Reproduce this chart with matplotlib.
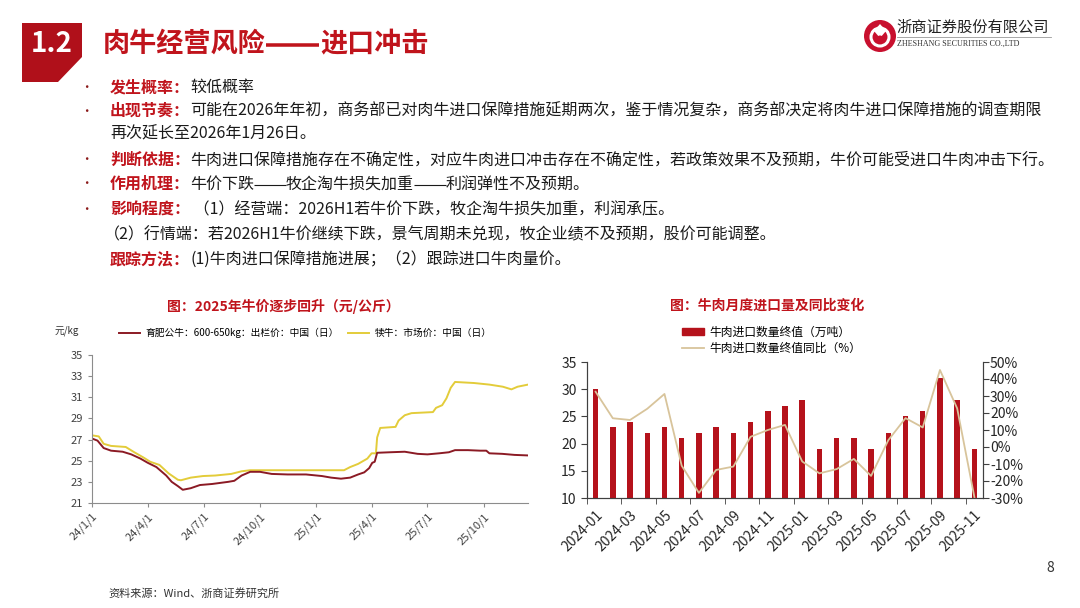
import matplotlib
matplotlib.use('Agg')
import matplotlib.pyplot as plt
from matplotlib.patches import Polygon, Circle, Rectangle
from matplotlib.lines import Line2D
import numpy as np
import pandas as pd

plt.rcParams['font.family'] = ['Noto Sans CJK SC', 'DejaVu Sans']

RED = '#C0141C'

# ---- left chart: daily cattle prices (yuan/kg), key points
bull_dates = ['2024-01-01', '2024-01-10', '2024-01-20', '2024-02-01', '2024-02-20', '2024-03-05',
              '2024-03-20', '2024-04-01', '2024-04-15', '2024-05-01', '2024-05-10', '2024-05-20',
              '2024-05-28', '2024-06-10', '2024-06-25', '2024-07-15', '2024-08-10', '2024-08-20',
              '2024-09-01', '2024-09-15', '2024-10-01', '2024-10-20', '2024-11-15', '2024-12-15',
              '2025-01-10', '2025-01-25', '2025-02-10', '2025-02-25', '2025-03-10', '2025-03-20',
              '2025-03-28', '2025-04-02', '2025-04-06', '2025-04-10', '2025-05-01', '2025-05-25',
              '2025-06-15', '2025-07-01', '2025-07-20', '2025-08-05', '2025-08-15', '2025-09-05',
              '2025-09-25', '2025-10-05', '2025-10-10', '2025-10-31', '2025-11-20', '2025-12-12']
bull_price = [27.1, 26.9, 26.2, 25.95, 25.85, 25.6,
              25.2, 24.8, 24.4, 23.6, 23.0, 22.6,
              22.25, 22.4, 22.7, 22.8, 23.0, 23.1,
              23.6, 23.95, 23.95, 23.75, 23.7, 23.7,
              23.55, 23.4, 23.3, 23.4, 23.7, 23.9,
              24.3, 24.8, 24.9, 25.75, 25.8, 25.85,
              25.65, 25.6, 25.7, 25.8, 26.0, 26.0,
              25.95, 25.95, 25.7, 25.65, 25.55, 25.5]

calf_dates = ['2024-01-01', '2024-01-12', '2024-01-20', '2024-02-01', '2024-02-25', '2024-03-10',
              '2024-03-25', '2024-04-05', '2024-04-20', '2024-05-05', '2024-05-20', '2024-05-25',
              '2024-06-10', '2024-06-30', '2024-07-20', '2024-08-15', '2024-09-01', '2024-09-15',
              '2025-02-15', '2025-02-25', '2025-03-10', '2025-03-25', '2025-04-01', '2025-04-08',
              '2025-04-10', '2025-04-15', '2025-05-10', '2025-05-15', '2025-05-25', '2025-06-05',
              '2025-07-10', '2025-07-15', '2025-07-25', '2025-08-01', '2025-08-08', '2025-08-15',
              '2025-09-15', '2025-10-10', '2025-11-01', '2025-11-15', '2025-11-25', '2025-12-12']
calf_price = [27.4, 27.3, 26.6, 26.4, 26.3, 25.8,
              25.3, 24.9, 24.6, 23.8, 23.2, 23.15,
              23.4, 23.55, 23.6, 23.75, 24.0, 24.1,
              24.1, 24.4, 24.7, 25.2, 25.7, 25.7,
              27.2, 28.1, 28.2, 28.8, 29.3, 29.5,
              29.6, 30.0, 30.25, 30.9, 31.9, 32.45,
              32.35, 32.2, 32.0, 31.75, 32.0, 32.2]

date_ticks = ['2024-01-01', '2024-04-01', '2024-07-01', '2024-10-01',
              '2025-01-01', '2025-04-01', '2025-07-01', '2025-10-01']

# ---- right chart: monthly beef imports
months = ['2024-01', '2024-02', '2024-03', '2024-04', '2024-05', '2024-06', '2024-07', '2024-08',
          '2024-09', '2024-10', '2024-11', '2024-12', '2025-01', '2025-02', '2025-03', '2025-04',
          '2025-05', '2025-06', '2025-07', '2025-08', '2025-09', '2025-10', '2025-11']
import_vol = [30, 23, 24, 22, 23, 21, 22, 23, 22, 24, 26, 27, 28, 19, 21, 21, 19, 22, 25, 26, 32, 28, 19]
import_yoy = [32.5, 16.9, 15.9, 22.5, 31.2, -11, -27, -13.5, -11.5, 6, 10, 13,
              -8.5, -15.5, -13, -7, -17, 4, 17, 11.5, 45.3, 22.7, -29.5]

fig = plt.figure(figsize=(10.8, 6.08), dpi=100)
fig.patch.set_facecolor('white')

# page overlay in pixel coordinates
bg = fig.add_axes([0, 0, 1, 1])
bg.set_xlim(0, 1080)
bg.set_ylim(608, 0)
bg.axis('off')
renderer = fig.canvas.get_renderer()


def chain(x, y, parts, fs, color_bold=RED, color_norm='#1a1a1a', all_bold=False):
    # draw text pieces one after another; '——' drawn as a solid rule
    em = fs * 100 / 72
    for s, bold in parts:
        col = color_bold if bold else color_norm
        if s == '——':
            bg.plot([x + 0.02 * em, x + 1.98 * em], [y + 0.04 * em, y + 0.04 * em], color=col,
                    lw=fs * (0.13 if (bold or all_bold) else 0.07), solid_capstyle='butt')
            x += 2 * em
            continue
        t = bg.text(x, y, s, fontsize=fs, va='center',
                    fontweight='bold' if (bold or all_bold) else 'normal', color=col)
        x = t.get_window_extent(renderer=renderer).x1
    return x


bg.add_patch(Polygon([(22, 23), (82, 23), (82, 57), (58, 82), (22, 82)], closed=True,
                     color='#B0101A', lw=0))
bg.text(52, 44, '1.2', color='white', fontsize=20, fontweight='bold', ha='center', va='center')
chain(103, 44, [('肉牛经营风险', True), ('——', True), ('进口冲击', True)], 19.5)

# logo
bg.add_patch(Circle((880, 36), 16, color='#C8102E', lw=0))
bg.add_patch(Circle((880, 37), 9, fill=False, ec='white', lw=2.2))
bg.add_patch(Polygon([(880, 24), (886, 31), (880, 38), (874, 31)], closed=True, color='white', lw=0))
bg.add_patch(Circle((880, 39), 3.5, color='#C8102E', lw=0))
bg.text(896, 27, '浙商证券股份有限公司', fontsize=11, color='#222222', va='center')
bg.plot([897, 1051], [36.5, 36.5], color='#999999', lw=0.6)
bg.text(897, 43.5, 'ZHESHANG SECURITIES CO.,LTD', fontsize=5.8, family='Liberation Serif',
        color='#333333', va='center')

FS = 11.5


def text_line(y, parts, x=110, bullet=True):
    if bullet:
        bg.text(86, y, '•', fontsize=9, color='#8B1A1A', va='center', ha='center')
    chain(x, y, parts, FS)


text_line(87, [('发生概率：', True), ('较低概率', False)])
text_line(111, [('出现节奏：', True),
                ('可能在2026年年初，商务部已对肉牛进口保障措施延期两次，鉴于情况复杂，商务部决定将肉牛进口保障措施的调查期限', False)])
text_line(134, [('再次延长至2026年1月26日。', False)], bullet=False)
text_line(160, [('判断依据：', True),
                ('牛肉进口保障措施存在不确定性，对应牛肉进口冲击存在不确定性，若政策效果不及预期，牛价可能受进口牛肉冲击下行。', False)])
text_line(184, [('作用机理：', True), ('牛价下跌', False), ('——', False), ('牧企淘牛损失加重', False),
                ('——', False), ('利润弹性不及预期。', False)])
text_line(210, [('影响程度：', True), (' （1）经营端：2026H1若牛价下跌，牧企淘牛损失加重，利润承压。', False)])
text_line(235, [('（2）行情端：若2026H1牛价继续下跌，景气周期未兑现，牧企业绩不及预期，股价可能调整。', False)],
          x=104, bullet=False)
text_line(259, [('跟踪方法：', True), ('(1)牛肉进口保障措施进展；（2）跟踪进口牛肉量价。', False)], bullet=False)

bg.text(283, 306, '图：2025年牛价逐步回升（元/公斤）', fontsize=10, fontweight='bold', color=RED,
        ha='center', va='center')
bg.text(767, 306, '图：牛肉月度进口量及同比变化', fontsize=10, fontweight='bold', color=RED,
        ha='center', va='center')
bg.text(67, 331, '元/kg', fontsize=7, color='#333333', ha='center', va='center')
bg.text(108, 593, '资料来源：Wind、浙商证券研究所', fontsize=8, color='#333333', va='center')
bg.text(1050, 568, '8', fontsize=10, color='#333333', ha='center', va='center')

# ---- left chart
ax1 = fig.add_axes([92 / 1080, 1 - 503 / 608, (528 - 92) / 1080, (503 - 355) / 608])
ax1.plot(pd.to_datetime(calf_dates), calf_price, color='#E3CC3A', lw=1.4)
ax1.plot(pd.to_datetime(bull_dates), bull_price, color='#8B1A24', lw=1.4)
ax1.set_xlim(pd.Timestamp('2024-01-01'), pd.Timestamp('2025-12-12'))
ax1.set_ylim(21, 35)
ax1.set_yticks(range(21, 36, 2))
tick_ts = pd.to_datetime(date_ticks)
ax1.set_xticks(tick_ts)
ax1.set_xticklabels([f'{d.year % 100}/{d.month}/{d.day}' for d in tick_ts],
                    rotation=45, ha='right', rotation_mode='anchor')
for s in ['top', 'right']:
    ax1.spines[s].set_visible(False)
for s in ['left', 'bottom']:
    ax1.spines[s].set_color('#8c8c8c')
    ax1.spines[s].set_linewidth(0.8)
ax1.tick_params(direction='out', length=3, color='#8c8c8c', labelsize=8, labelcolor='#404040')
ax1.tick_params(axis='x', pad=3)

h1 = [Line2D([], [], color='#8B1A24', lw=1.4), Line2D([], [], color='#E3CC3A', lw=1.4)]
ax1.legend(h1, ['育肥公牛：600-650kg：出栏价：中国（日）', '犊牛：市场价：中国（日）'],
           ncol=2, loc='center', bbox_to_anchor=(305 / 1080, 1 - 333 / 608),
           bbox_transform=fig.transFigure, frameon=False, fontsize=7,
           handlelength=2.2, columnspacing=1.0, handletextpad=0.5)

# ---- right chart
ax2 = fig.add_axes([587 / 1080, 1 - 498 / 608, 396 / 1080, 136 / 608])
x = np.arange(len(months))
ax2.bar(x, import_vol, width=0.32, color='#B5121B')
ax2.set_ylim(10, 35)
ax2.set_yticks(range(10, 36, 5))
ax2.set_xlim(-0.5, len(months) - 0.5)
ax2.set_xticks(x[::2])
ax2.set_xticklabels(months[::2], rotation=45, ha='right', va='top', rotation_mode='anchor')
ax2.set_xticks(x[::2] - 0.5, minor=True)
ax2.tick_params(axis='x', which='major', length=0, pad=7)
ax2.tick_params(axis='x', which='minor', length=4, direction='out', color='#404040')
ax2.tick_params(axis='y', length=4, direction='out', color='#404040')
ax2.tick_params(labelsize=10, labelcolor='#262626')

ax3 = ax2.twinx()
ax3.plot(x, import_yoy, color='#D8C49B', lw=1.3)
ax3.set_ylim(-30, 50)
ax3.set_yticks(range(-30, 51, 10))
ax3.set_yticklabels([f'{v}%' for v in range(-30, 51, 10)])
ax3.tick_params(axis='y', length=4, direction='out', color='#404040', labelsize=10,
                labelcolor='#262626', pad=1)
for a in (ax2, ax3):
    a.spines['top'].set_visible(False)
    for s in ['left', 'right', 'bottom']:
        a.spines[s].set_color('#404040')
        a.spines[s].set_linewidth(0.8)

h2 = [Rectangle((0, 0), 1, 1, color='#B5121B'), Line2D([], [], color='#D8C49B', lw=1.3)]
ax2.legend(h2, ['牛肉进口数量终值（万吨）', '牛肉进口数量终值同比（%）'],
           loc='center', bbox_to_anchor=(772 / 1080, 1 - 340 / 608),
           bbox_transform=fig.transFigure, frameon=False, fontsize=8.5,
           handlelength=1.8, handleheight=0.5, labelspacing=0.25, handletextpad=0.5)

fig.savefig('out.png', dpi=100, facecolor='white')
